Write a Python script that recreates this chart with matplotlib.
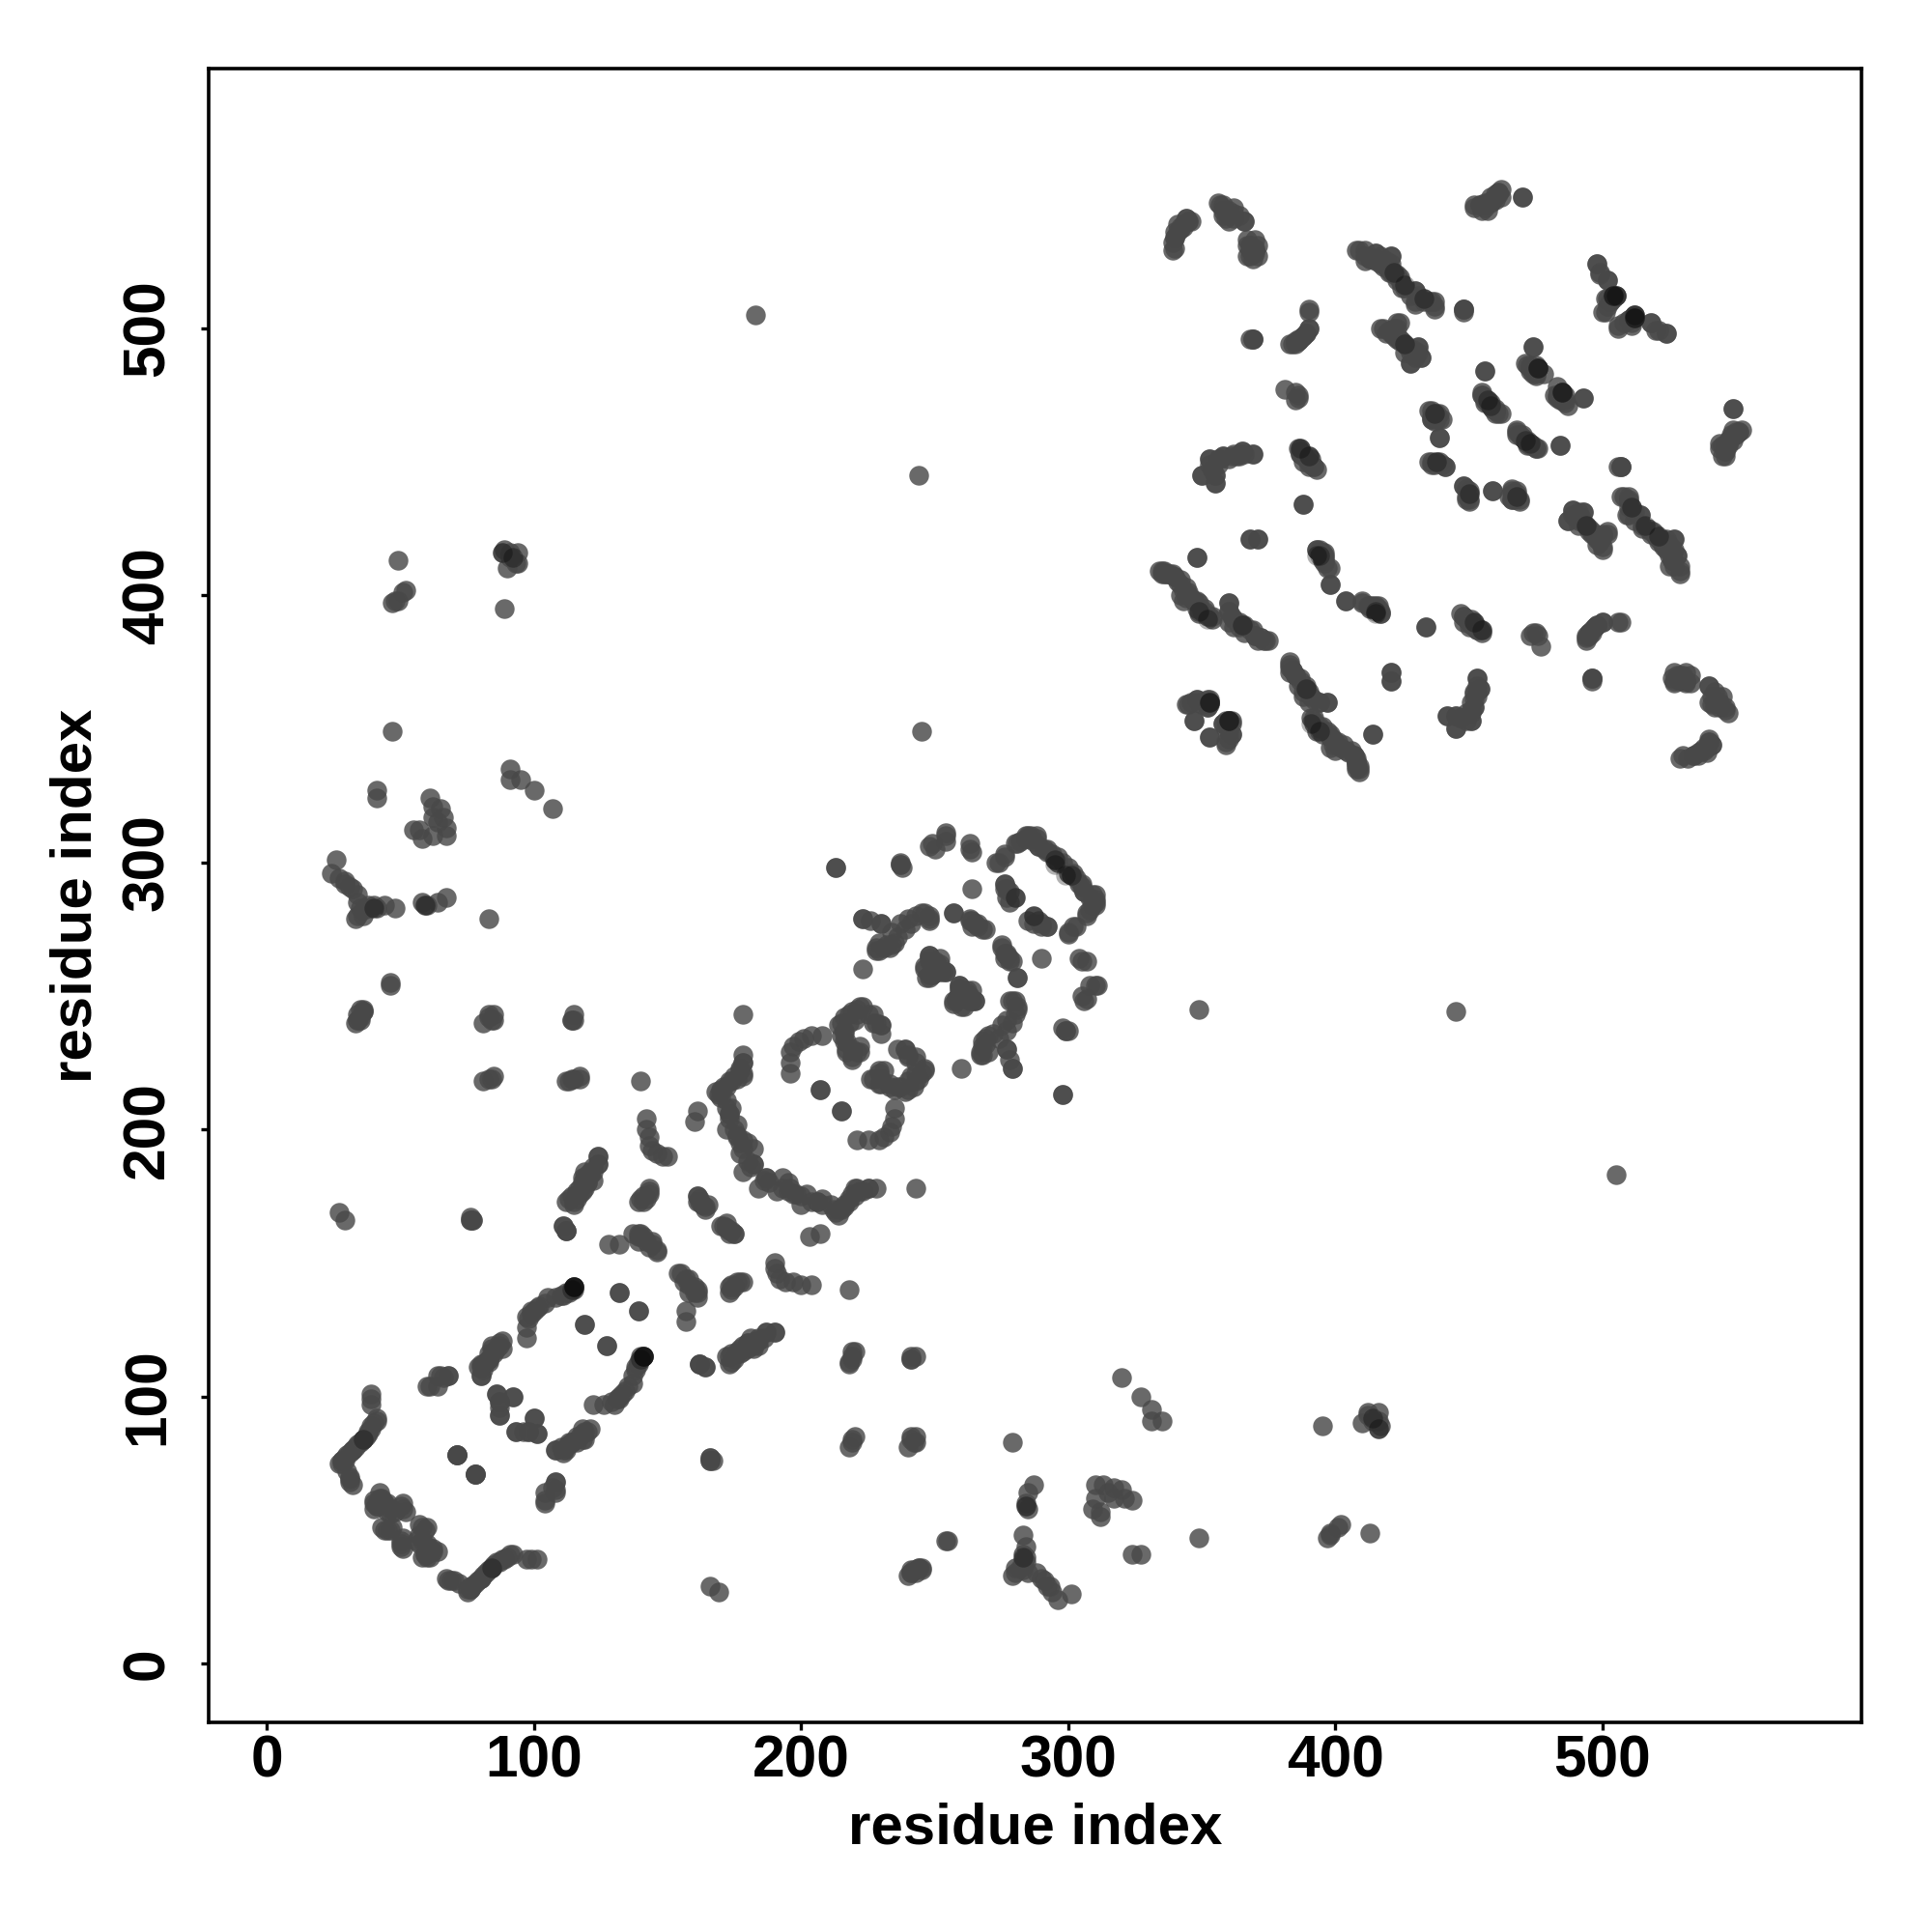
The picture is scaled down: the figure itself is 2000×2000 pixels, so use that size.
import matplotlib
matplotlib.use("Agg")
import matplotlib.pyplot as plt

tick_values = [0, 100, 200, 300, 400, 500]
axis_label = "residue index"

# contacts (i, j); the map is symmetric, each is drawn at (i, j) and (j, i)
n_term_band = [(27,75),(28,76),(28,76),(29,77),(30,78),(31,79),(32,80),(32,80),(33,81),(34,82),(35,83),(36,84),(36,84),(37,85),(38,86),(38,87),(39,88),(39,89),(40,90),(41,92),(41,91),(39,97),(39,99),(39,101),
               (30,72),(31,70),(31,68),(32,67),(31,69),(29,76),(28,75)]
sheet_a = [(40,60),(41,59),(42,61),(43,62),(44,60),(45,57),(46,58),(46,56),(48,57),(52,57),(43,51),(44,50),(46,50),(47,51),(45,50),
           (51,60),(58,51),(59,50),(60,44),(61,43),(60,41),(62,42),(60,45),(64,42),(58,40),(59,41),(61,40)]
sheet_b = [(60,104),(64,108),(68,108),(66,107),(78,71),(71,78),(71,78),(78,71),(87,120),(88,118),(84,119),(83,114),(81,112),(79,111),(80,108),(85,117),(82,113),(86,118),(83,116),
           (86,101),(87,98),(92,100),(87,93),(93,87),(87,96),(100,92),(98,87),(101,86)]
sheet_c = [(115,141),(115,141),(115,140),(114,140),(112,139),(110,138),(108,137),(105,137),(102,134),(99,132),(97,130),(99,131),(97,126),(97,122),(101,133),(104,135),(111,138),(113,139),(100,132),(98,129),
           (104,61),(104,64),(108,65),(108,68),(119,127),(127,119),(132,139),(139,132),(27,169),(29,166),(76,166),(77,166),(111,164),(112,162),(128,157),(132,157),(139,161),(140,160),(141,160),(144,158),(146,155),(139,158),(137,161),(142,158),(146,154),
           (144,157),(139,160),(140,161),(143,156)]
sheet_d = [(112,162),(115,172),(116,174),(118,177),(119,178),(120,180),(122,184),(118,182),(121,184),(124,187),(124,190),(115,173),(117,176),(120,183),(122,181),
           (112,80),(118,84),(121,88),(119,87),(108,80),(111,80),(113,83),(116,85),(110,81),(114,83),(162,112),(164,111),(173,112),(176,116),(180,120),(184,119),(187,124),(190,124),(178,117),(182,119),(175,114),(186,122),(174,113),(180,118),(183,121),(177,116),
           (166,77),(167,76),(166,76),(139,173),(140,174),(141,173),(142,174),(143,177),(143,178),(143,176),(141,175)]
sheet_e = [(178,243),(140,218),(142,204),(142,200),(143,194),(143,197),(146,191),(150,190),(144,192),(148,190),(161,207),(160,203),
           (178,225),(178,221),(175,220),(177,223),(170,214),(169,213),(171,216),(173,218),(173,206),(175,200),(176,202),(178,196),(180,195),(182,193),(182,187),(178,184),(174,208),(176,198),(172,211),
           (196,221),(196,225),(196,229),(199,233),(204,235),(208,235),(197,231),(201,234),(207,215),(215,207),
           (214,239),(216,242),(219,244),(222,246),(225,243),(230,239),(230,236),(218,243),(215,240),(221,245),(228,240),(216,233),(217,229),(221,229),(219,226),(216,236),(219,230),
           (223,260),(249,260),(247,257),(252,259),(254,259),(249,258),(248,264),(257,281),(248,278),(246,281),(241,277),(239,275),(234,269),(229,267),(230,277),(223,279),(237,299),(238,298),(213,298),(213,298)]
sheet_f = [(161,175),(162,173),(164,171),(163,172),(170,164),(172,165),(175,161),(172,163),(173,161),(174,162),(182,187),(188,180),(191,177),(195,177),(200,172),(204,173),(208,172),(212,170),(215,170),(218,174),(222,177),(225,178),(206,173),(214,168),(216,172),(219,176),(220,178),(228,178),(197,176),(193,178),(186,181)]
sheet_g = [(219,227),(222,229),(217,230),(215,235),(216,237),(218,240),(221,243),(223,246),(227,243),(230,239),(227,240),(220,241),(217,233),(222,231)]
helix_turns = [(237,299),(237,300),(248,306),(250,305),(254,311),(254,308),(263,307),(264,304),(263,305),
               (273,300),(276,303),(280,307),(284,310),(288,310),(289,306),(292,304),(295,301),(282,308),(285,309),(291,305),(294,303),(296,300),(302,296),(300,298),(305,292),(309,288),(286,310),(281,307),(276,302),(274,300),(306,289),(308,287),(310,285),(309,284),
               (264,290),(276,292),(278,289),(280,287),(277,290),(285,278),(287,277),(290,276),(292,276),
               (257,281),(265,277),(268,275),(263,278),(266,277),(264,276),(276,266),(275,269),(278,264),(277,265),(279,263),(254,310),(249,307)]
helix_knot = [(223,279),(226,278),(230,277),(234,274),(237,277),(240,279),(245,281),(248,280),(248,279),(243,280),(228,267),(231,268),(235,270),(233,268),(229,270),(236,272),(248,265),(246,260),(250,263),(253,259),(248,257),(251,262),(252,264),
              (259,254),(262,252),(258,249),(263,248),(265,248),(258,248),(261,246),(232,269),(228,268)]
long_range_a = [(49,413),(48,398),(47,397),(49,398),(52,402),(51,401),(88,416),(91,416),(94,416),(90,410),(94,412),(89,417),(91,414),(93,412),(89,395),(47,349),
                (91,335),(91,331),(95,331),(100,327),(107,320),(41,327),(41,324),(61,324),(62,321),(65,320),(66,317),(62,317),(67,313),(67,310),(62,310),(57,312),(55,312),(58,309),(64,315),
                (26,301),(24,296),(27,294),(29,293),(31,291),(32,290),(34,288),(35,283),(33,279),(36,280),(38,284),(40,284),(44,284),(48,283),(34,285),(36,282),(29,292),(34,280),(37,283),(41,283),(39,283),
                (58,285),(59,284),(60,284),(64,285),(67,287)]
long_range_b = [(83,279),(46,255),(46,254),(36,245),(36,244),(35,241),(33,240),(83,243),(83,242),(81,240),(85,243),(115,243),(114,241),(81,218),(83,219),(85,220),(84,219),(112,218),(114,219),(117,220),(115,219),
                (34,241),(35,242),(241,34),(245,35),(244,36),(243,34),(113,218),(117,219),(114,241),(115,241),(84,241),(85,241),
                (183,505),(245,349),(244,445)]
sheet_upper_a = [(339,529),(339,532),(340,536),(341,539),(344,541),(346,540),(340,534),(342,537),(343,539),(345,540),(356,547),(359,544),(362,545),(362,541),(366,540),(358,542),(357,546),(360,544),(364,542),(360,540),
                 (367,531),(371,531),(367,527),(371,527),(368,529),(370,529),(369,526),(368,531),
                 (408,529),(411,529),(411,525),(415,528),(417,524),(421,527),(420,521),(423,518),(426,515),(430,514),(430,510),(433,511),(437,510),(437,507),(418,524),(422,520),(424,518),(428,512),(419,523),(421,522),(413,526),(415,525),(435,510),(431,512),
                 (448,507),(448,507),(390,506),(390,500),(388,497),(386,495),(383,494),(389,498),(387,496),(385,495),(369,496),(369,496)]
sheet_upper_b = [(417,500),(423,502),(421,499),(424,496),(427,493),(431,493),(432,489),(428,487),(419,498),(422,500),(425,495),(426,491),(429,490),(430,489),(431,491),
                 (456,484),(455,475),(456,473),(458,471),(461,468),(456,472),(457,472),(459,470),(460,469),(462,468),(470,460),(468,460),(470,459),(473,457),(475,455),(471,458),(472,458),(474,456),(476,455),
                 (461,551),(460,550),(456,547),(452,546),(458,549),(456,545),(454,546),(459,548),(457,547),(470,549),
                 (474,493),(471,487),(476,485),(476,485),(475,483),(473,485),(472,486),(478,483),(474,485),(475,486),(485,476),(482,475),(486,473),(493,474),(484,475),(484,473),(483,474),(485,475),(484,456)]
sheet_upper_c = [(435,469),(439,468),(436,466),(440,466),(437,468),(438,466),(439,459),(435,450),(438,450),(441,448),(436,449),(448,441),(450,439),(450,436),(449,437),(449,440),(459,439),(466,439),(469,436),(468,437),(466,436),(465,437),(468,438),(467,436),
                 (369,453),(365,454),(362,453),(357,451),(353,451),(355,445),(350,445),(355,442),(356,449),(360,451),(364,452),(358,452),(353,449),(354,447),
                 (386,455),(387,453),(389,451),(392,448),(390,450),(388,452),(388,450),(391,449),(390,448),(388,434),(368,421),(371,421),(348,414),(394,417),(396,415),(393,417),(395,414),(396,413),(396,416),(398,410),(398,404),
                 (404,398),(410,397),(414,396),(416,394),(417,393),(412,396),(413,395),(416,395)]
sheet_upper_d = [(434,388),(447,393),(451,391),(455,387),(448,392),(450,390),(452,390),(453,388),(453,387),(454,387),(475,386),(477,381),(474,386),(476,385),(473,385),(495,386),(497,388),(500,390),(507,390),(494,384),(496,386),(494,385),(498,389),
                 (334,409),(338,408),(342,406),(342,400),(346,399),(348,398),(350,394),(353,392),(360,397),(360,394),(360,390),(365,389),(368,387),(373,383),(375,383),(337,408),(336,408),(340,407),(344,403),(345,401),(351,395),(354,392),(347,398),(361,392),(364,388),(366,386),(370,385),(372,384),
                 (383,374),(383,371),(387,369),(389,365),(388,362),(394,360),(397,360),(384,372),(385,370),(390,364),(389,366),(391,362),(391,354),(394,351),(397,349),(400,345),(398,343),(404,342),(408,339),(409,335),(392,352),(393,349),(395,348),(398,347),(399,344),(402,343),(405,341),(407,340),(408,337),(409,336),(408,335),
                 (414,348),(421,371),(421,368)]
sheet_upper_e = [(453,369),(454,365),(452,363),(452,358),(451,353),(445,355),(442,355),(445,350),(453,366),(452,361),(451,356),(447,354),(453,364),
                 (344,359),(348,361),(353,360),(353,360),(353,361),(352,358),(347,353),(350,359),(346,360),(360,353),(358,352),(361,348),(353,347),(359,345),(361,352),(359,353),(360,349),
                 (498,524),(499,521),(502,518),(505,512),(505,512),(502,511),(500,506),(503,510),(504,511),(506,501),(512,504),(512,504),(511,501),(518,502),(520,499),(524,498),(508,502),(510,503),
                 (549,470),(552,462),(549,462),(547,458),(544,457),(545,452),(550,461),(551,461),(548,460),(546,456),(546,454),(548,459),(544,455),(507,448),(506,448),(508,437),(510,436),(510,433),(509,430),(514,430),(515,425),(520,423),(524,421),(527,421),(528,415),(526,415),(527,417),(525,419),(517,425),(519,424),(521,421),(529,409),(527,411),(523,418),(522,420),(526,413),
                 (489,432),(487,428),(493,431),(494,426),(497,422),(502,424),(500,418),(491,428),(492,429),(495,424),(496,423),(498,421),(499,420),(500,423)]
sheet_upper_f = [(496,369),(496,368),(530,370),(533,370),(527,368),(533,367),(528,370),(531,368),(540,366),(543,362),(546,358),(541,359),(544,358),(542,360),(530,340),(534,340),(538,342),(540,345),(538,343),(536,341),(541,344)]
# places where many contacts pile up and the map turns almost black
dense_contacts = [(115,141),(115,141),(115,141),(114,140),(88,416),(92,414),(36,84),(40,283),(59,284),(476,485),(476,485),(512,504),(512,504),(505,512),
                  (389,365),(391,352),(394,349),(452,390),(455,387),(437,468),(450,438),(353,360),(360,353),(295,301),(299,295),(280,287),(433,511),(422,521),(473,457),(458,471),(516,426),(494,426),(393,415),(415,394)]

all_regions = [n_term_band, sheet_a, sheet_b, sheet_c, sheet_d, sheet_e, sheet_f, sheet_g, helix_turns, helix_knot,
               long_range_a, long_range_b, sheet_upper_a, sheet_upper_b, sheet_upper_c,
               sheet_upper_d, sheet_upper_e, sheet_upper_f]

plt.rcParams["font.family"] = ["Liberation Sans", "DejaVu Sans"]
fig = plt.figure(figsize=(10, 10), dpi=200)
ax = fig.add_axes([215.6/2000, 1-1783/2000, (1927-215.6)/2000, (1783-71.4)/2000])

for region in all_regions:
    i_vals = [p[0] for p in region] + [p[1] for p in region]
    j_vals = [p[1] for p in region] + [p[0] for p in region]
    ax.scatter(i_vals, j_vals, s=54, c="#484848", alpha=0.82, linewidths=0, zorder=3)
dense_i = [p[0] for p in dense_contacts] + [p[1] for p in dense_contacts]
dense_j = [p[1] for p in dense_contacts] + [p[0] for p in dense_contacts]
ax.scatter(dense_i, dense_j, s=54, c="black", alpha=0.3, linewidths=0, zorder=4)

ax.set_xlim(-22, 597)
ax.set_ylim(-22, 597)
ax.set_xticks(tick_values)
ax.set_yticks(tick_values)
ax.tick_params(axis="both", length=3, width=1.2, labelsize=21.8)
ax.tick_params(axis="x", pad=1.5)
ax.tick_params(axis="y", pad=9)
for lab in ax.get_xticklabels():
    lab.set_fontweight("bold")
for lab in ax.get_yticklabels():
    lab.set_fontweight("bold")
    lab.set_rotation(90)
    lab.set_va("center")
for s in ax.spines.values():
    s.set_linewidth(1.3)
ax.set_xlabel(axis_label, fontsize=21.6, fontweight="bold", labelpad=4.7)
ax.set_ylabel(axis_label, fontsize=21.6, fontweight="bold", labelpad=6.8)
fig.savefig("out.png", dpi=200)
